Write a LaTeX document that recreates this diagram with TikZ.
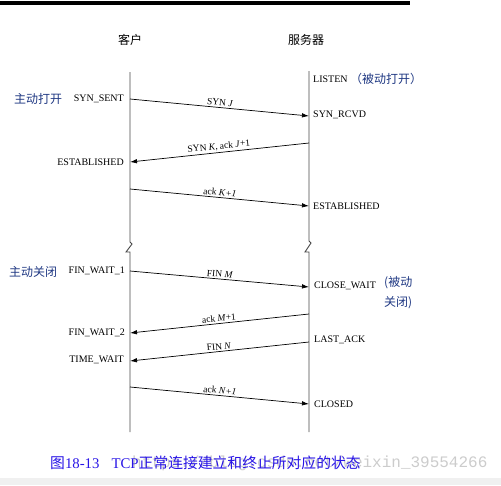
\documentclass[tikz,border=0pt]{standalone}
\usepackage{fontspec}
\setmainfont{Liberation Serif}
\setmonofont{Liberation Mono}
\newfontfamily\cjk{Noto Sans CJK SC}
\usetikzlibrary{arrows.meta}
\definecolor{annot}{RGB}{30,55,130}
\definecolor{capblue}{RGB}{40,20,230}
\definecolor{lifegray}{RGB}{70,70,70}
\tikzset{
  lifeline/.style={draw=lifegray, line width=0.9pt},
  msg/.style={draw=black, line width=0.7pt, -{Latex[length=7pt,width=4.5pt]}},
  msglab/.style={font=\fontsize{9.5}{11}\selectfont, sloped, above, inner sep=1.5pt},
  stL/.style={font=\fontsize{10}{12}\selectfont, anchor=east, inner sep=0pt},
  stR/.style={font=\fontsize{10}{12}\selectfont, anchor=west, inner sep=0pt},
  head/.style={font=\cjk\fontsize{12}{14}\selectfont, inner sep=0pt},
  note/.style={font=\cjk\fontsize{12}{14}\selectfont, text=annot, inner sep=0pt},
}
\begin{document}
\begin{tikzpicture}[x=1pt,y=-1pt]
\useasboundingbox (0,0) rectangle (501,485);
% top rule and bottom band
\fill[black] (0,1) rectangle (410,4.5);
\fill[black!6] (0,478) rectangle (501,485);
% headers
\node[head] (hc) at (130,40) {客户};
\node[head] (hs) at (306,40) {服务器};
% lifelines with breaks
\coordinate (ctop) at (130,72);
\coordinate (cbot) at (130,432);
\coordinate (stop) at (309,71);
\coordinate (sbot) at (309,432);
\draw[lifeline] (ctop) -- (130,242) -- (132,244) -- (126,252) -- (130,252) -- (cbot);
\draw[lifeline] (stop) -- (309,241) -- (311,243) -- (305,252) -- (309,252) -- (sbot);
% message end points
\coordinate (c1) at (130,99);  \coordinate (s1) at (309,116);
\coordinate (s2) at (309,143); \coordinate (c2) at (130,162);
\coordinate (c3) at (130,189); \coordinate (s3) at (309,206);
\coordinate (c4) at (130,271); \coordinate (s4) at (309,287);
\coordinate (s5) at (309,314); \coordinate (c5) at (130,333);
\coordinate (s6) at (309,342); \coordinate (c6) at (130,361);
\coordinate (c7) at (130,387); \coordinate (s7) at (309,404);
\draw[msg] (c1) -- node[msglab]{SYN \textit{J}} (s1);
\draw[msg] (s2) -- node[msglab]{SYN \textit{K}, ack \textit{J}+1} (c2);
\draw[msg] (c3) -- node[msglab]{ack \textit{K+1}} (s3);
\draw[msg] (c4) -- node[msglab]{FIN \textit{M}} (s4);
\draw[msg] (s5) -- node[msglab]{ack \textit{M}+1} (c5);
\draw[msg] (s6) -- node[msglab]{FIN \textit{N}} (c6);
\draw[msg] (c7) -- node[msglab]{ack \textit{N+1}} (s7);
% client states
\node[note, anchor=west] (ao) at (14,99) {主动打开};
\node[stL] (synsent) at (124,99) {SYN\_SENT};
\node[stL] (cest) at (124,162) {ESTABLISHED};
\node[note, anchor=west] (ac) at (9,272) {主动关闭};
\node[stL] (fw1) at (125,271) {FIN\_WAIT\_1};
\node[stL] (fw2) at (125,333) {FIN\_WAIT\_2};
\node[stL] (tw) at (124,360) {TIME\_WAIT};
% server states
\node[stR] (listen) at (313,79) {LISTEN};
\node[note, anchor=west] (po) at (350,79) {（被动打开）};
\node[stR] (synrcvd) at (313,115) {SYN\_RCVD};
\node[stR] (sest) at (313,206) {ESTABLISHED};
\node[stR] (cw) at (314,286) {CLOSE\_WAIT};
\node[note, anchor=west, align=left, font=\cjk\fontsize{12}{20}\selectfont] (pc) at (384,293) {(被动\\关闭)};
\node[stR] (lack) at (314,340) {LAST\_ACK};
\node[stR] (closed) at (314,404) {CLOSED};
% caption with watermark
\node[anchor=west, text=black!20, font=\ttfamily\fontsize{16}{18}\selectfont, inner sep=0pt] (wm) at (132,463) {https://blog.csdn.net/weixin\_39554266};
\node[anchor=west, text=capblue, font=\fontsize{14.8}{17}\selectfont, inner sep=0pt] (cap) at (50,463) {{\cjk 图}18-13\hspace{12pt}TCP{\cjk 正常连接建立和终止所对应的状态}};
\end{tikzpicture}
\end{document}
